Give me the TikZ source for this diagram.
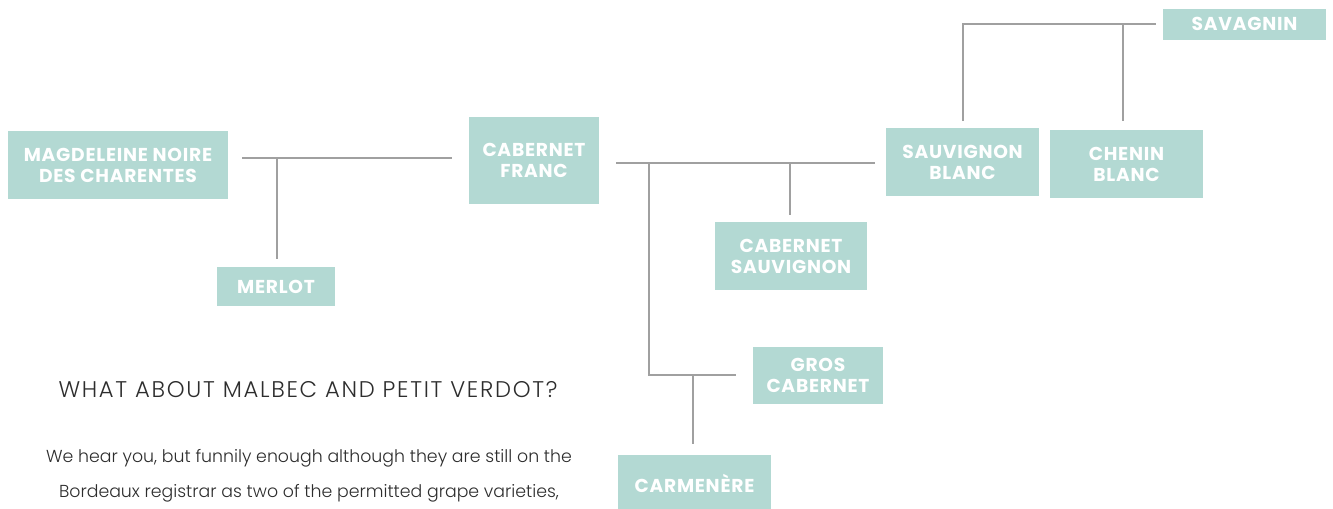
\documentclass[tikz,border=0pt]{standalone}
\usepackage{fontspec}
\setmainfont{Poppins}
\newfontfamily\boxfont{Poppins}[LetterSpace=4]
\newfontfamily\thinfont{Poppins Light}
\newfontfamily\wideheadfont{Poppins Light}[LetterSpace=7.5]
\usepackage{xcolor}

\definecolor{grape}{RGB}{179,217,211}
\definecolor{stem}{RGB}{160,160,160}
\definecolor{prose}{RGB}{45,45,45}

\tikzset{
  variety/.style={fill=grape, text=white, align=center, inner sep=0pt,
    font=\boxfont\bfseries\fontsize{14}{15.75}\selectfont},
  stemline/.style={draw=stem, line width=1.1pt},
  prosetext/.style={text=prose, inner sep=0pt, font=\thinfont\fontsize{13}{26}\selectfont}
}

\begin{document}
\begin{tikzpicture}[x=0.75pt,y=0.75pt,yscale=-1,xscale=1]
\useasboundingbox (0,0) rectangle (1333,508);

%Shape: Rectangle [id:magdeleine]
\node [variety, minimum width=165pt, minimum height=51pt] (magdeleine) at (118,165) {MAGDELEINE NOIRE\\DES CHARENTES};
%Shape: Rectangle [id:merlot]
\node [variety, minimum width=88.5pt, minimum height=29.25pt] (merlot) at (276,286.5) {MERLOT};
%Shape: Rectangle [id:cabfranc]
\node [variety, minimum width=97.5pt, minimum height=65.25pt] (cabfranc) at (534,160.5) {CABERNET\\FRANC};
%Shape: Rectangle [id:cabsauv]
\node [variety, minimum width=114pt, minimum height=51pt] (cabsauv) at (791,256) {CABERNET\\SAUVIGNON};
%Shape: Rectangle [id:sauvblanc]
\node [variety, minimum width=114.75pt, minimum height=51pt] (sauvblanc) at (962.5,162) {SAUVIGNON\\BLANC};
%Shape: Rectangle [id:chenin]
\node [variety, minimum width=114.75pt, minimum height=51pt] (chenin) at (1126.5,164) {CHENIN\\BLANC};
%Shape: Rectangle [id:savagnin]
\node [variety, minimum width=122.25pt, minimum height=23.25pt] (savagnin) at (1244.5,24) {SAVAGNIN};
%Shape: Rectangle [id:gros]
\node [variety, minimum width=97.5pt, minimum height=42.75pt] (gros) at (818,375.5) {GROS\\CABERNET};
%Shape: Rectangle [id:carmenere]
\node [variety, minimum width=114.75pt, minimum height=42.75pt] (carmenere) at (694.5,483.5) {CARMENÈRE};

%Coordinates of the family lines
\coordinate (mleft) at (242,158);
\coordinate (mright) at (452,158);
\coordinate (mjoin) at (277,158);
\coordinate (mdown) at (277,259);
\coordinate (cleft) at (616,163);
\coordinate (cright) at (875,163);
\coordinate (cjoin) at (649,163);
\coordinate (sjoin) at (790,163);
\coordinate (sdown) at (790,215);
\coordinate (gleft) at (649,375);
\coordinate (gright) at (736,375);
\coordinate (gjoin) at (693,375);
\coordinate (gdown) at (693,444);
\coordinate (vleft) at (963,24);
\coordinate (vright) at (1156,24);
\coordinate (vjoin) at (1123,24);
\coordinate (vdown) at (963,121);
\coordinate (vdowntwo) at (1123,121);

%Straight Lines
\draw [stemline] (mleft) -- (mright) ;
\draw [stemline] (mjoin) -- (mdown) ;
%Straight Lines
\draw [stemline] (cleft) -- (cright) ;
\draw [stemline] (sjoin) -- (sdown) ;
\draw [stemline] (cjoin) -- (gleft) -- (gright) ;
\draw [stemline] (gjoin) -- (gdown) ;
%Straight Lines
\draw [stemline] (vdown) -- (vleft) -- (vright) ;
\draw [stemline] (vjoin) -- (vdowntwo) ;

% Text Node
\node [prosetext, font=\wideheadfont\fontsize{17}{20}\selectfont] (heading) at (308,390) {WHAT ABOUT MALBEC AND PETIT VERDOT?};
% Text Node
\node [prosetext] (lineone) at (309,458) {We hear you, but funnily enough although they are still on the};
% Text Node
\node [prosetext] (linetwo) at (309,493) {Bordeaux registrar as two of the permitted grape varieties,};

\end{tikzpicture}
\end{document}
